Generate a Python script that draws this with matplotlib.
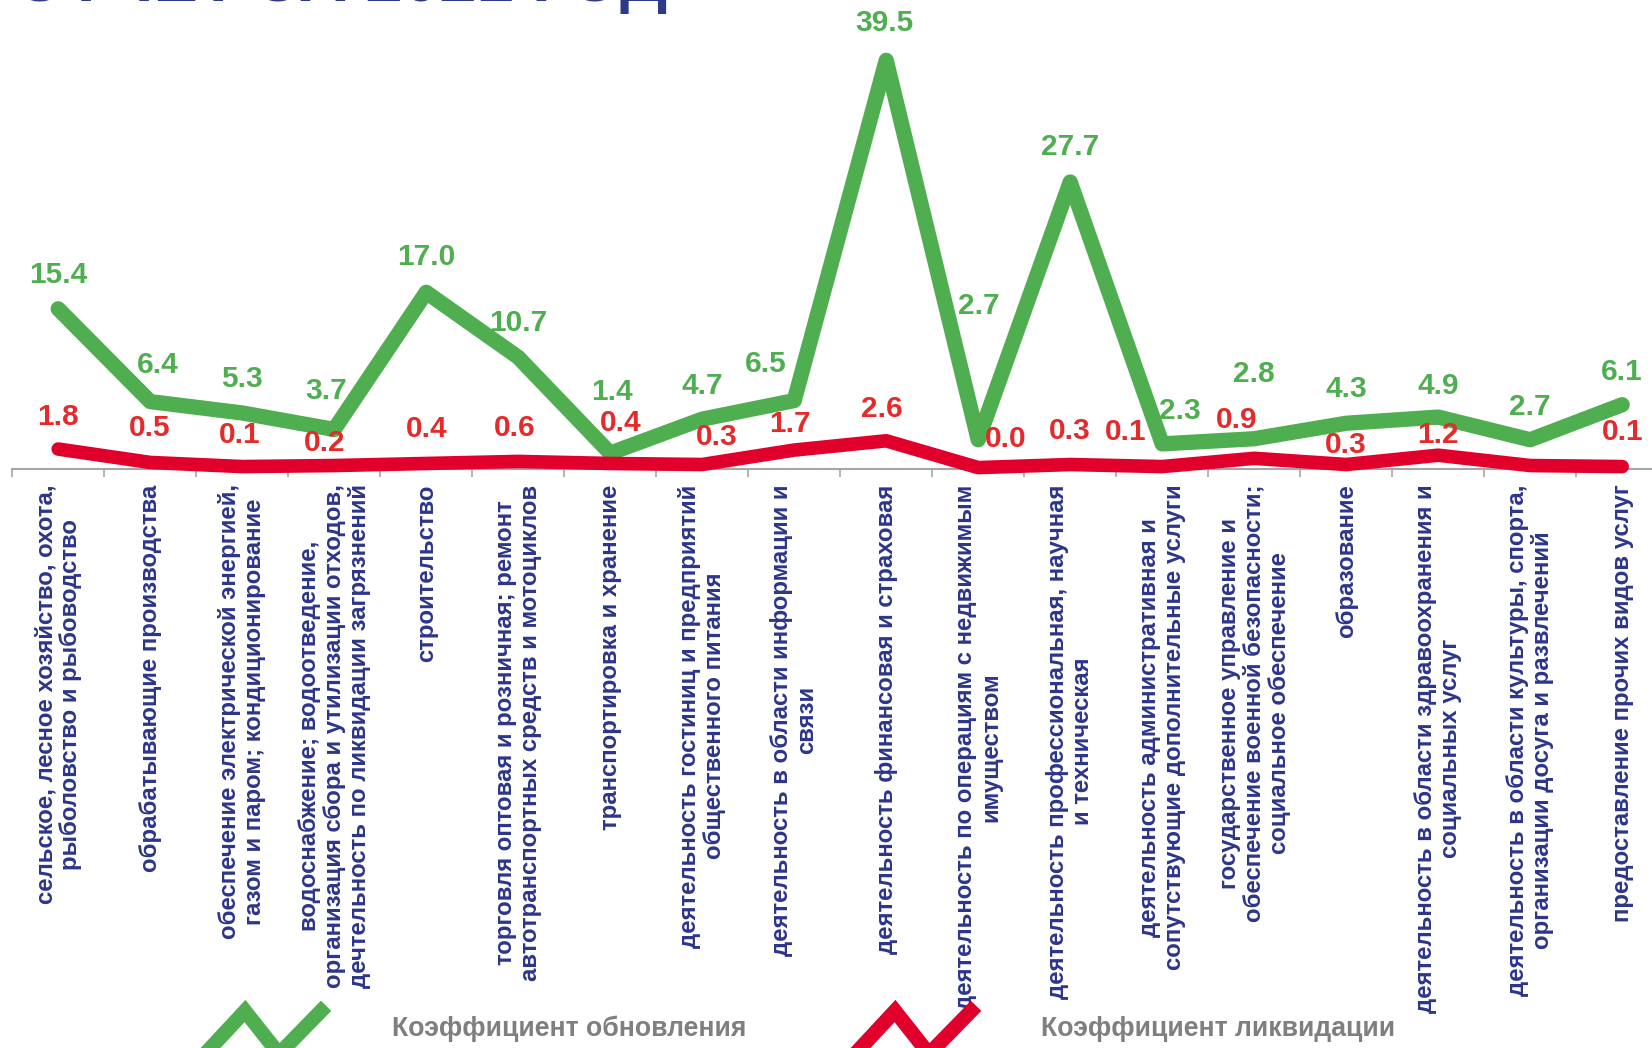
import numpy as np
import matplotlib
matplotlib.use("Agg")
import matplotlib.pyplot as plt
from matplotlib.lines import Line2D

# =====================================================
# DATA
# =====================================================

categories = [
    "сельское, лесное хозяйство, охота,\nрыболовство и рыбоводство",
    "обрабатывающие производства",
    "обеспечение электрической энергией,\nгазом и паром; кондиционирование",
    "водоснабжение; водоотведение,\nорганизация сбора и утилизации отходов,\nдечтельность по ликвидации загрязнений",
    "строительство",
    "торговля оптовая и розничная; ремонт\nавтотранспортных средств и мотоциклов",
    "транспортировка и хранение",
    "деятельность гостиниц и предприятий\nобщественного питания",
    "деятельность в области информации и\nсвязи",
    "деятельность финансовая и страховая",
    "деятельность по операциям с недвижимым\nимуществом",
    "деятельность профессиональная, научная\nи техническая",
    "деятельность административная и\nсопутствующие дополнительные услуги",
    "государственное управление и\nобеспечение военной безопасности;\nсоциальное обеспечение",
    "образование",
    "деятельность в области здравоохранения и\nсоциальных услуг",
    "деятельность в области культуры, спорта,\nорганизации досуга и развлечений",
    "предоставление прочих видов услуг",
]

renewal = [15.4, 6.4, 5.3, 3.7, 17.0, 10.7, 1.4, 4.7, 6.5,
           39.5, 2.7, 27.7, 2.3, 2.8, 4.3, 4.9, 2.7, 6.1]

liquidation = [1.8, 0.5, 0.1, 0.2, 0.4, 0.6, 0.4, 0.3, 1.7,
               2.6, 0.0, 0.3, 0.1, 0.9, 0.3, 1.2, 0.2, 0.1]

series_names = ["Коэффициент обновления", "Коэффициент ликвидации"]

title_text = "ОТЧЕТ ЗА 2021 ГОД"

# =====================================================
# STYLE
# =====================================================

GREEN = "#4FAE4F"
RED_LINE = "#E0002B"
RED_TEXT = "#E42A2A"
NAVY = "#2C3589"
GRAY = "#A6A6A6"
LEGEND_GRAY = "#7F7F7F"

# label offsets in pixels (dx, dy) as placed in the original
g_dx = [0, 8, 0, -8, 0, 0, 2, 0, -28, -2, 1, 0, 18, 0, 0, 0, 0, 0]
g_dy = [34, 37, 34, 38, 35, 34, 61, 33, 37, 37, 134, 35, 33, 65, 34, 31, 33, 33]

r_dx = [0, -1, -3, -10, 0, -3, 10, 15, -4, -4, 27, 0, -37, -18, 0, 0, 0, 0]
r_dy = [32, 34, 32, 23, 34, 33, 40, 28, 26, 32, 29, 34, 35, 38, 20, 20, 0, 35]
r_hidden = {16}

W, H = 1652, 1048
DPI = 100

plt.rcParams["font.family"] = ["Liberation Sans", "DejaVu Sans"]

fig = plt.figure(figsize=(W / DPI, H / DPI), dpi=DPI)

# axes spans the full width (last category runs off the right edge)
ax_left = 12.2 / W
ax_width = 18 * 92 / W
ax_bottom = (H - 469) / H
ax = fig.add_axes([ax_left, ax_bottom, ax_width, 1 - ax_bottom])

x = np.arange(len(categories))

ax.plot(x, renewal, color=GREEN, lw=11,
        solid_capstyle="round", solid_joinstyle="round", zorder=3,
        clip_on=False)
ax.plot(x, liquidation, color=RED_LINE, lw=9.8,
        solid_capstyle="round", solid_joinstyle="round", zorder=4,
        clip_on=False)

ax.set_xlim(-0.5, 17.5)
ax.set_ylim(-0.136, 45.35)

# =====================================================
# DATA LABELS
# =====================================================

for i, v in enumerate(renewal):
    ax.annotate(
        f"{v:.1f}",
        (x[i], v),
        xytext=(g_dx[i], g_dy[i]),
        textcoords="offset pixels",
        ha="center",
        va="center",
        fontsize=21.5,
        fontweight="bold",
        color=GREEN,
        zorder=6
    )

for i, v in enumerate(liquidation):
    if i in r_hidden:
        continue
    ax.annotate(
        f"{v:.1f}",
        (x[i], v),
        xytext=(r_dx[i], r_dy[i]),
        textcoords="offset pixels",
        ha="center",
        va="center",
        fontsize=21.5,
        fontweight="bold",
        color=RED_TEXT,
        zorder=6
    )

# =====================================================
# AXES
# =====================================================

for s in ["top", "left", "right"]:
    ax.spines[s].set_visible(False)

ax.spines["bottom"].set_color(GRAY)
ax.spines["bottom"].set_linewidth(1.5)

ax.set_yticks([])

ax.set_xticks(x)
ax.set_xticklabels(
    categories,
    rotation=90,
    ha="center",
    va="top",
    multialignment="center",
    fontsize=17.3,
    fontweight="bold",
    color=NAVY,
    linespacing=1.12
)
ax.tick_params(axis="x", which="major", length=0, pad=11)

ax.set_xticks(np.arange(-0.5, 17.5, 1), minor=True)
ax.tick_params(axis="x", which="minor", length=6, width=1.2, color=GRAY)

# =====================================================
# TITLE (cut off at top)
# =====================================================

fig.text(
    14 / W,
    1 - 1 / H,
    title_text,
    fontsize=48,
    fontweight="bold",
    color="#2E3A87",
    va="baseline",
    ha="left"
)

# =====================================================
# LEGEND
# =====================================================

def zigzag(x0, color):
    xs = np.array([x0, x0 + 40, x0 + 74, x0 + 116]) / W
    ys = 1 - np.array([1054, 1011, 1054, 1011]) / H
    fig.add_artist(Line2D(xs, ys, color=color, lw=10.5,
                          solid_joinstyle="miter",
                          transform=fig.transFigure))

zigzag(205, GREEN)
zigzag(855, RED_LINE)

legend_font = ["Liberation Sans Narrow", "Liberation Sans", "DejaVu Sans"]

fig.text(392 / W, 1 - 1029 / H, series_names[0],
         fontsize=19.2, fontweight="bold", color=LEGEND_GRAY,
         va="center", ha="left", family=legend_font)
fig.text(1041 / W, 1 - 1029 / H, series_names[1],
         fontsize=19.2, fontweight="bold", color=LEGEND_GRAY,
         va="center", ha="left", family=legend_font)

fig.savefig("out.png", dpi=DPI)
